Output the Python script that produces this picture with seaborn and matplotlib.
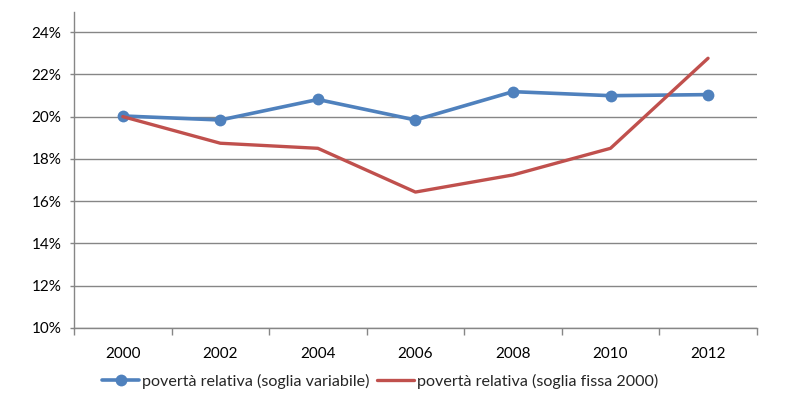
import matplotlib
matplotlib.use("Agg")
import matplotlib.pyplot as plt
import seaborn as sns
import pandas as pd
from matplotlib.ticker import FixedLocator, PercentFormatter

years = ["2000", "2002", "2004", "2006", "2008", "2010", "2012"]
soglia_variabile = [20.03, 19.84, 20.81, 19.84, 21.18, 20.99, 21.04]
soglia_fissa = [20.0, 18.74, 18.5, 16.43, 17.24, 18.5, 22.76]
y_ticks = [10, 12, 14, 16, 18, 20, 22, 24]

label_var = "povertà relativa (soglia variabile)"
label_fix = "povertà relativa (soglia fissa 2000)"

sns.set_theme(style="white")
plt.rcParams["font.family"] = ["Lato", "DejaVu Sans"]

df = pd.DataFrame({"anno": years, "var": soglia_variabile, "fix": soglia_fissa})

fig = plt.figure(figsize=(7.9, 3.99), dpi=100)
ax = fig.add_axes([0.0937, 0.178, 0.958 - 0.0937, 0.970 - 0.178])

sns.lineplot(data=df, x="anno", y="var", ax=ax, color="#4F81BD", linewidth=2.6,
             marker="o", markersize=8.5, markeredgewidth=0, label=label_var, sort=False)
sns.lineplot(data=df, x="anno", y="fix", ax=ax, color="#C0504D", linewidth=2.4,
             label=label_fix, sort=False)

ax.set_xlim(-0.5, len(years) - 0.5)
ax.set_ylim(10, 24.95)
ax.set_yticks(y_ticks)
ax.yaxis.set_major_formatter(PercentFormatter(decimals=0))
ax.grid(axis="y", color="#868686", linewidth=1)
ax.set_axisbelow(True)
ax.set_xlabel("")
ax.set_ylabel("")

for s in ["top", "right"]:
    ax.spines[s].set_visible(False)
for s in ["left", "bottom"]:
    ax.spines[s].set_color("#868686")
    ax.spines[s].set_linewidth(1)

ax.xaxis.set_minor_locator(FixedLocator([i - 0.5 for i in range(len(years) + 1)]))
ax.tick_params(axis="x", which="major", length=0, pad=14, labelsize=11, colors="black")
ax.tick_params(axis="x", which="minor", length=5, color="#868686", width=1, direction="out", bottom=True)
ax.tick_params(axis="y", which="major", length=3, color="#868686", width=1, direction="out",
               left=True, pad=6, labelsize=11, labelcolor="black")

ax.legend(loc="center", bbox_to_anchor=(0.481, 0.045), bbox_transform=fig.transFigure,
          ncol=2, frameon=False, fontsize=11.6, handlelength=2.3, handletextpad=0.15,
          columnspacing=0.5)

fig.savefig("out.png", dpi=100)
